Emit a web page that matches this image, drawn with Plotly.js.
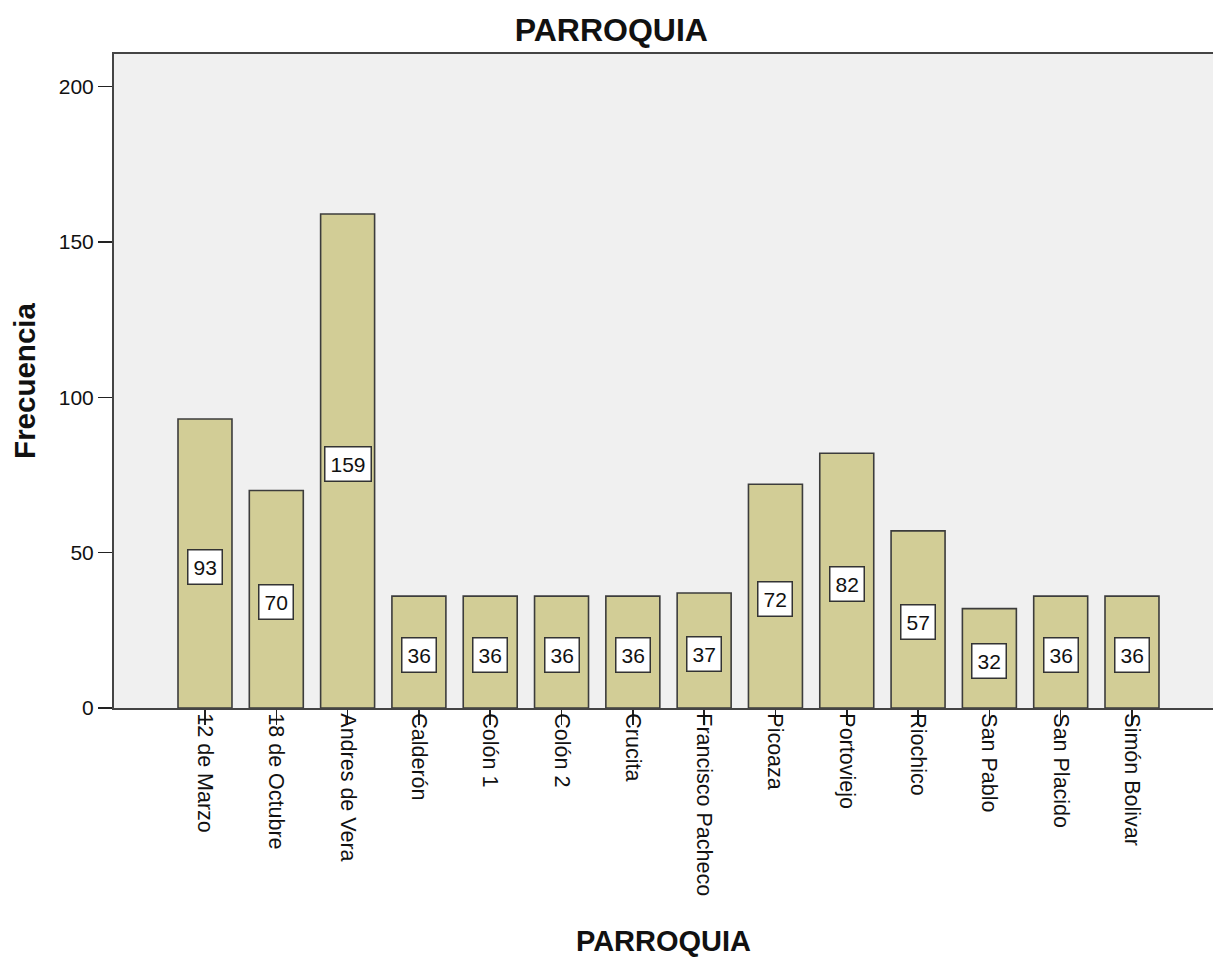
<!DOCTYPE html>
<html>
<head>
<meta charset="utf-8">
<script src="https://cdn.plot.ly/plotly-3.0.1.min.js"></script>
<style>html,body{margin:0;padding:0;background:#fff;}#chart{width:1213px;height:957px;}</style>
</head>
<body>
<div id="chart"></div>
<script>
const categories = ["12 de Marzo","18 de Octubre","Andres de Vera","Calderón","Colón 1","Colón 2","Crucita","Francisco Pacheco","Picoaza","Portoviejo","Riochico","San Pablo","San Placido","Simón Bolivar"];
const frecuencia = [93,70,159,36,36,36,36,37,72,82,57,32,36,36];
const yTicks = [0,50,100,150,200];

const FONT = "Arial, 'Liberation Sans', sans-serif";

const trace = {
  type: "bar",
  x: categories,
  y: frecuencia,
  marker: {color: "#D2CD96", line: {color: "#3c3c3c", width: 1.6}},
  hoverinfo: "x+y"
};

const annotations = categories.map((c, i) => ({
  x: c, y: frecuencia[i] / 2, xref: "x", yref: "y",
  text: String(frecuencia[i]), showarrow: false,
  bgcolor: "#ffffff", bordercolor: "#333333", borderwidth: 1.5, borderpad: 5,
  font: {family: FONT, size: 21, color: "#111"}, yshift: -3
}));

const layout = {
  width: 1213, height: 957,
  margin: {l: 114, r: 0, t: 54, b: 249},
  paper_bgcolor: "#ffffff",
  plot_bgcolor: "#F0F0F0",
  bargap: 0.243,
  showlegend: false,
  font: {family: FONT, color: "#111"},
  title: {text: "<b>PARROQUIA</b>", font: {family: FONT, size: 32, color: "#111"},
          x: 0.504, xref: "container", xanchor: "center", y: 0.969, yref: "container", yanchor: "middle"},
  xaxis: {
    type: "category", categoryorder: "array", categoryarray: categories,
    range: [-1.276, 14.136],
    showline: true, linecolor: "#444", linewidth: 2, mirror: true,
    ticks: "outside", ticklen: 15, tickwidth: 1.5, tickcolor: "#222",
    tickangle: 90, tickfont: {family: FONT, size: 21.5, color: "#111"},
    ticklabelstandoff: -16,
    showgrid: false, zeroline: false, fixedrange: true,
    title: {text: "<b>PARROQUIA</b>", font: {family: FONT, size: 29, color: "#111"}, standoff: 36}
  },
  yaxis: {
    range: [0, 210.5],
    tickvals: yTicks, ticktext: yTicks.map(String),
    showline: true, linecolor: "#444", linewidth: 2, mirror: false,
    ticks: "outside", ticklen: 14, tickwidth: 1.5, tickcolor: "#222",
    tickfont: {family: FONT, size: 21, color: "#111"},
    showgrid: false, zeroline: false, fixedrange: true,
    title: {text: "<b>Frecuencia</b>", font: {family: FONT, size: 29.5, color: "#111"}, standoff: 14}
  },
  annotations: annotations
};

Plotly.newPlot("chart", [trace], layout, {displayModeBar: false, staticPlot: true});
</script>
</body>
</html>
